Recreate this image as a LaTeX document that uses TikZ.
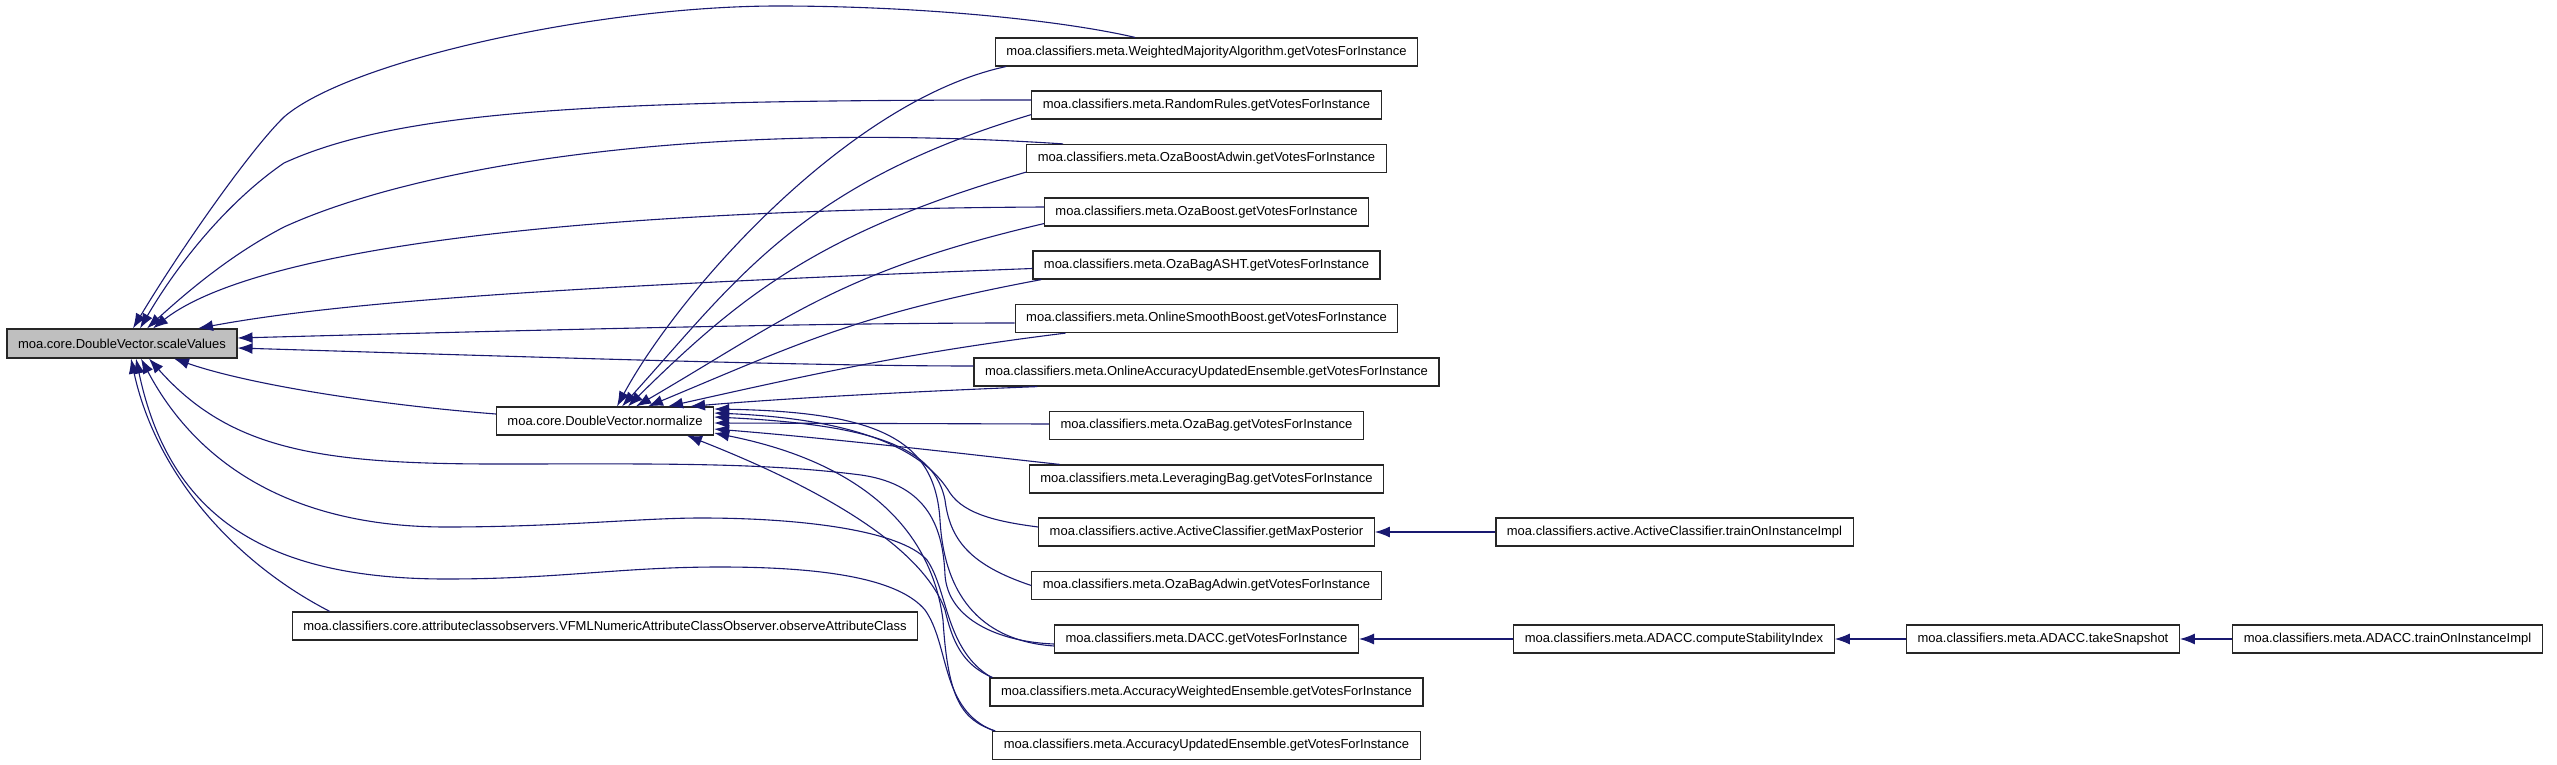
\documentclass[tikz,border=0pt]{standalone}
\usepackage{fontspec}
\setmainfont{Liberation Sans}
\usetikzlibrary{arrows.meta}
\definecolor{edgeblue}{RGB}{25,25,112}
\begin{document}
\begin{tikzpicture}[x=1pt,y=-1pt,
    fn/.style={draw=black!85, line width=1.2pt, minimum height=28pt, inner xsep=11pt,
               font=\fontsize{13}{15}\selectfont},
    callline/.style={{Latex[length=15pt,width=11pt]}-, edgeblue, line width=1.1pt}]
    \useasboundingbox (0,0) rectangle (2557,765);
    % left side
    \node [fn, fill=black!25, minimum height=29pt] (sv) at (122,343.5) {moa.core.DoubleVector.scaleValues};
    \node [fn] (nrm)  at (605,421) {moa.core.DoubleVector.normalize};
    \node [fn] (vfml) at (605,626) {moa.classifiers.core.attributeclassobservers.VFMLNumericAttributeClassObserver.observeAttributeClass};
    % callers
    \node [fn] (wma)   at (1206.5,52)    {moa.classifiers.meta.WeightedMajorityAlgorithm.getVotesForInstance};
    \node [fn] (rr)    at (1206.5,105)   {moa.classifiers.meta.RandomRules.getVotesForInstance};
    \node [fn] (oba)   at (1206.5,158.5) {moa.classifiers.meta.OzaBoostAdwin.getVotesForInstance};
    \node [fn] (ob)    at (1206.5,212)   {moa.classifiers.meta.OzaBoost.getVotesForInstance};
    \node [fn] (obash) at (1206.5,265)   {moa.classifiers.meta.OzaBagASHT.getVotesForInstance};
    \node [fn] (osb)   at (1206.5,318.5) {moa.classifiers.meta.OnlineSmoothBoost.getVotesForInstance};
    \node [fn] (oaue)  at (1206.5,372)   {moa.classifiers.meta.OnlineAccuracyUpdatedEnsemble.getVotesForInstance};
    \node [fn] (obag)  at (1206.5,425.5) {moa.classifiers.meta.OzaBag.getVotesForInstance};
    \node [fn] (lb)    at (1206.5,479)   {moa.classifiers.meta.LeveragingBag.getVotesForInstance};
    \node [fn] (gmp)   at (1206.5,532)   {moa.classifiers.active.ActiveClassifier.getMaxPosterior};
    \node [fn] (obadw) at (1206.5,585.5) {moa.classifiers.meta.OzaBagAdwin.getVotesForInstance};
    \node [fn] (dacc)  at (1206.5,639)   {moa.classifiers.meta.DACC.getVotesForInstance};
    \node [fn] (awe)   at (1206.5,692)   {moa.classifiers.meta.AccuracyWeightedEnsemble.getVotesForInstance};
    \node [fn] (aue)   at (1206.5,745.5) {moa.classifiers.meta.AccuracyUpdatedEnsemble.getVotesForInstance};
    % right chain
    \node [fn] (acti) at (1674.5,532) {moa.classifiers.active.ActiveClassifier.trainOnInstanceImpl};
    \node [fn] (csi)  at (1674,639)   {moa.classifiers.meta.ADACC.computeStabilityIndex};
    \node [fn] (snap) at (2043,639)   {moa.classifiers.meta.ADACC.takeSnapshot};
    \node [fn] (adtr) at (2387.5,639) {moa.classifiers.meta.ADACC.trainOnInstanceImpl};

    % into scaleValues
    \draw [callline] ([xshift=11pt]sv.north) .. controls (180,250) and (250,150) .. (284,117)
        .. controls (350,60) and (600,6) .. (778,6) .. controls (920,6) and (1060,20) .. ([xshift=-71.5pt]wma.north);
    \draw [callline] ([xshift=18pt]sv.north) .. controls (180,260) and (230,200) .. (284,163)
        .. controls (400,110) and (600,100) .. ([yshift=5pt]rr.west);
    \draw [callline] ([xshift=25pt]sv.north) .. controls (200,280) and (240,250) .. (284,227)
        .. controls (420,165) and (700,120) .. ([xshift=-143.5pt]oba.north);
    \draw [callline] ([xshift=31pt]sv.north) .. controls (240,260) and (500,210) .. ([yshift=5pt]ob.west);
    \draw [callline] ([xshift=76pt]sv.north) .. controls (350,300) and (600,285) .. ([yshift=-3.5pt]obash.west);
    \draw [callline] ([yshift=5.5pt]sv.east) .. controls (500,331) and (800,323) .. ([yshift=-4.5pt]osb.west);
    \draw [callline] ([yshift=-4.5pt]sv.east) .. controls (500,356) and (800,366) .. ([yshift=6pt]oaue.west);
    \draw [callline] ([xshift=52pt]sv.south) .. controls (250,385) and (380,405) .. ([yshift=7pt]nrm.west);
    \draw [callline] ([xshift=27pt]sv.south) .. controls (230,450) and (320,464) .. (497,464)
        .. controls (650,464) and (760,462) .. (861,475) .. controls (930,485) and (943,530) .. (945,575)
        .. controls (948,620) and (1000,642) .. ([yshift=-5pt]dacc.west);
    \draw [callline] ([xshift=19pt]sv.south) .. controls (200,470) and (300,527) .. (446,527)
        .. controls (560,527) and (640,518) .. (701,518) .. controls (800,518) and (900,530) .. (927,560)
        .. controls (948,590) and (945,650) .. ([xshift=2pt]awe.north west);
    \draw [callline] ([xshift=14pt]sv.south) .. controls (170,520) and (270,579) .. (446,579)
        .. controls (560,579) and (620,567) .. (720,567) .. controls (830,567) and (900,580) .. (925,610)
        .. controls (950,645) and (940,710) .. ([xshift=2pt]aue.north west);
    \draw [callline] ([xshift=9pt]sv.south) .. controls (155,470) and (230,560) .. ([xshift=38pt]vfml.north west);

    % into normalize
    \draw [callline] ([xshift=12pt]nrm.north) .. controls (680,290) and (850,100) .. ([xshift=11pt]wma.south west);
    \draw [callline] ([xshift=17pt]nrm.north) .. controls (735,282) and (799,184) .. ([yshift=5pt]rr.south west);
    \draw [callline] ([xshift=23pt]nrm.north) .. controls (742,294) and (822,231) .. ([yshift=1pt]oba.south west);
    \draw [callline] ([xshift=31pt]nrm.north) .. controls (789,317) and (841,271) .. ([yshift=3pt]ob.south west);
    \draw [callline] ([xshift=43pt]nrm.north) .. controls (800,343) and (858,314) .. ([xshift=9pt]obash.south west);
    \draw [callline] ([xshift=63pt]nrm.north) .. controls (817,373) and (913,352) .. ([xshift=51pt]osb.south west);
    \draw [callline] ([xshift=85pt]nrm.north) .. controls (800,397) and (950,390) .. ([xshift=64pt]oaue.south west);
    \draw [callline] ([yshift=-2pt]nrm.east) -- ([yshift=1.5pt]obag.west);
    \draw [callline] ([yshift=-8pt]nrm.east) .. controls (850,440) and (1000,458) .. ([xshift=31pt]lb.north west);
    \draw [callline] ([yshift=8pt]nrm.east) .. controls (880,420) and (930,460) .. (950,493)
        .. controls (965,515) and (1000,522) .. ([yshift=5pt]gmp.west);
    \draw [callline] ([yshift=4pt]nrm.east) .. controls (880,425) and (935,450) .. (945,500)
        .. controls (950,540) and (970,565) .. (obadw.west);
    \draw [callline] ([yshift=12pt]nrm.east) .. controls (880,412) and (935,440) .. (940,520)
        .. controls (945,610) and (995,642) .. ([yshift=-7pt]dacc.west);
    \draw [callline] ([xshift=82pt]nrm.south) .. controls (800,480) and (920,540) .. (945,610)
        .. controls (952,640) and (962,665) .. ([xshift=3pt]awe.north west);
    \draw [callline] ([yshift=-12pt]nrm.east) .. controls (850,460) and (930,520) .. (943,620)
        .. controls (948,700) and (962,720) .. ([xshift=3pt]aue.north west);

    % chain on the right
    \draw [callline] (gmp.east) -- (acti.west);
    \draw [callline] (dacc.east) -- (csi.west);
    \draw [callline] (csi.east) -- (snap.west);
    \draw [callline] (snap.east) -- (adtr.west);
\end{tikzpicture}
\end{document}
